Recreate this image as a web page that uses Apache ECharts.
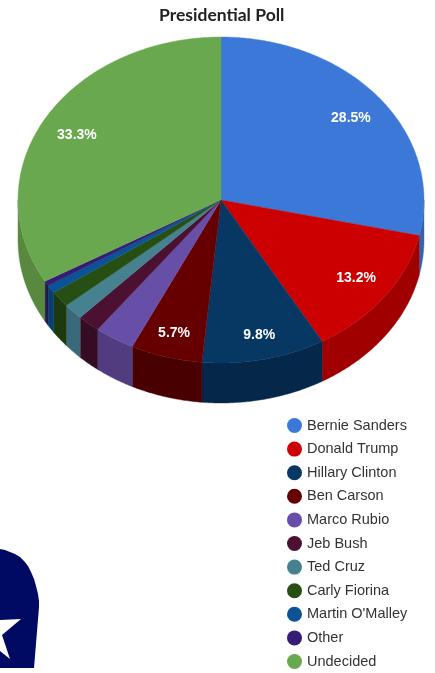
<!DOCTYPE html>
<html><head><meta charset="utf-8">
<style>html,body{margin:0;padding:0;background:#fff}#c{width:435px;height:673px}</style>
<script src="https://cdn.jsdelivr.net/npm/echarts@6/dist/echarts.min.js"></script>
</head><body><div id="c"></div>
<script>
const categories = ["Bernie Sanders","Donald Trump","Hillary Clinton","Ben Carson","Marco Rubio","Jeb Bush","Ted Cruz","Carly Fiorina","Martin O'Malley","Other","Undecided"];
const values = [28.5,13.2,9.8,5.7,3.2,1.8,1.6,1.6,0.8,0.5,33.3];
const topColors = ["#3c78d8","#cc0000","#073763","#660000","#674ea7","#4c1130","#45818e","#274e13","#0b5394","#351c75","#6aa84f"];
const sideColors = ["#3462ad","#a00000","#052749","#480000","#523c80","#360c22","#39697a","#1c3a0d","#093f70","#281559","#58893f"];
const titleText = "Presidential Poll";

const total = values.reduce((a,b)=>a+b,0);
const CX=221, CY=200, RX=203, RY=163, DEPTH=40, LABEL_F=0.82, LABEL_FY=0.83, LABEL_DY=3, LABEL_MIN=5;
const labelNudge = {1:[1,-5],2:[3,0],3:[-2,0]};
const starts = values.map((_,i)=>values.slice(0,i).reduce((a,b)=>a+b,0)/total*360);
const pt=(deg,f,dy)=>{const r=deg*Math.PI/180;return [CX+Math.sin(r)*RX*f,CY-Math.cos(r)*RY*f+(dy||0)];};
const arc=(a,b,dy)=>{const out=[];const n=Math.max(2,Math.ceil((b-a)*2));for(let k=0;k<=n;k++)out.push(pt(a+(b-a)*k/n,1,dy));return out;};

function renderSlice(i){
  const a=starts[i], b=a+values[i]/total*360, kids=[];
  const va=Math.max(a,90), vb=Math.min(b,270);
  if(vb>va){
    kids.push({type:'polygon',z2:1,shape:{points:arc(va,vb,0).concat(arc(va,vb,DEPTH).reverse())},
      style:{fill:sideColors[i],stroke:sideColors[i],lineWidth:0.4}});
  }
  kids.push({type:'polygon',z2:2,shape:{points:[[CX,CY]].concat(arc(a,b,0))},
    style:{fill:topColors[i],stroke:topColors[i],lineWidth:0.4}});
  if(values[i]>=LABEL_MIN){
    const m=(a+b)/2*Math.PI/180, n=labelNudge[i]||[0,0];
    const x=CX+Math.sin(m)*RX*LABEL_F+n[0], y=CY-Math.cos(m)*RY*LABEL_FY+LABEL_DY+n[1];
    kids.push({type:'text',z2:3,style:{x,y,text:values[i].toFixed(1)+'%',fill:'#fff',
      font:'bold 14px "Liberation Sans", Arial, sans-serif',align:'center',verticalAlign:'middle'}});
  }
  return {type:'group',children:kids};
}

const chart=echarts.init(document.getElementById('c'),null,{renderer:'canvas'});
chart.setOption({
  animation:false,
  backgroundColor:'#fff',
  title:{text:titleText,left:159,top:6,padding:0,
    textStyle:{fontFamily:'Lato, sans-serif',fontWeight:'bold',fontSize:17.5,color:'#222'}},
  legend:{orient:'vertical',left:287,top:418,itemWidth:15,itemHeight:15,itemGap:8.6,padding:0,
    icon:'circle',data:categories,selectedMode:false,
    textStyle:{fontFamily:'"Liberation Sans", Arial, sans-serif',fontSize:14.5,color:'#333'}},
  graphic:[
    {type:'polygon',shape:{points:[[0,549],[5,550],[10,552],[15,554],[20,557],[24,561],[28,566],[31,572],[34,579],[36,586],[38,594],[39,601],[39,607],[34,668],[0,668]]},style:{fill:'#000a62'}},
    {type:'polygon',z:10,shape:{points:[[0,620],[21,619],[2,635],[10,659],[0,651]]},style:{fill:'#fff'}}
  ],
  series:categories.map((name,i)=>({
    type:'custom',name,coordinateSystem:'none',silent:true,
    itemStyle:{color:topColors[i]},
    data:[values[i]],
    renderItem:()=>renderSlice(i)
  }))
});
</script></body></html>
